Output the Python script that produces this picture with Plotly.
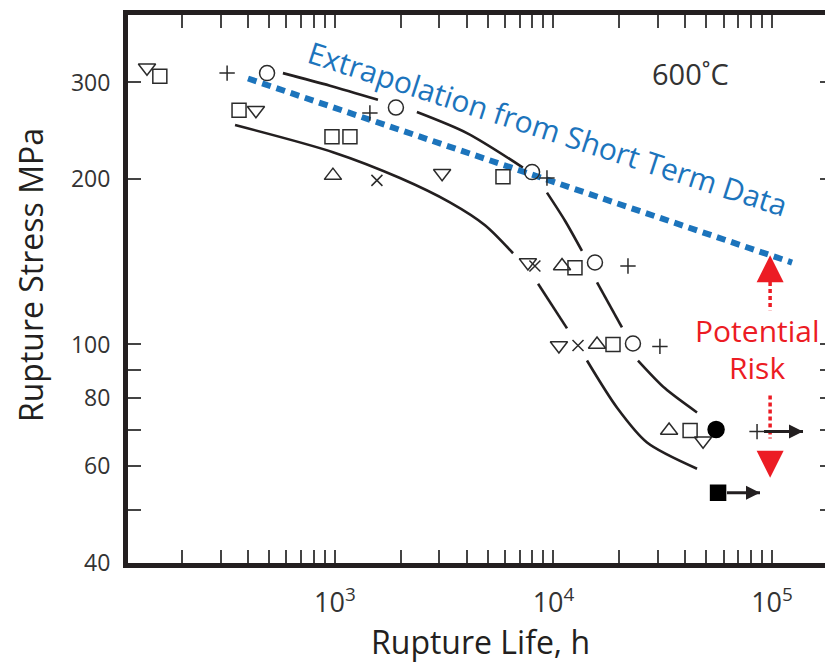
import math
import plotly.graph_objects as go

# ---------------- data (rupture life in h, rupture stress in MPa) ----------------
circle_life = [489, 1901, 7980, 15480, 23100]
circle_stress = [312, 270, 206, 141, 100.4]

square_life = [158, 364, 969, 1171, 5873, 12540, 18720, 42180]
square_stress = [308, 267, 239, 239, 202, 138, 100, 69.7]

tri_up_life = [979, 10940, 15820, 33800]
tri_up_stress = [203, 139, 100, 69.7]

tri_down_life = [138, 435, 3093, 7638, 10590, 48350]
tri_down_stress = [319, 267, 205, 141, 99.6, 66.8]

plus_life = [321, 1445, 9335, 21920, 30690, 85400]
plus_stress = [312, 264, 201, 139, 99.2, 69.4]

cross_life = [1556, 8222, 12950]
cross_stress = [199, 139, 99.6]

runout_circle_life = [55460]
runout_circle_stress = [70]
runout_square_life = [56640]
runout_square_stress = [53.7]

# run-out arrows (still running specimens)
runout_arrow1_life = [91900, 138600]
runout_arrow1_stress = [69.4, 69.4]
runout_arrow2_life = [62200, 88100]
runout_arrow2_stress = [53.7, 53.7]

# scatter band curves (None = gap where the line passes behind markers)
upper_curve_life = [578, 949, 1573, None, 2371, 4018, 7244, None, 9335, 11290, 13500,
                    None, 15820, 20570, None, 24360, 32380, 45370]
upper_curve_stress = [312, 296, 279, None, 265, 242.6, 210, None, 189, 168, 148,
                      None, 129.8, 107.4, None, 93.5, 83.2, 75.2]
lower_curve_life = [349, 979, 1984, 3357, 4860, 6530, None, 8500, 11530, None,
                    14230, 19540, 26790, 45370]
lower_curve_stress = [251, 224, 201, 181.5, 164.9, 146.6, None, 129, 107, None,
                      93.5, 76.7, 66.3, 59.4]

# extrapolation of short-term data
extrap_life = [400, 123500]
extrap_stress = [305, 141]

# potential risk arrow
risk_life = 98000
risk_up_dots = [130, 115.4]
risk_up_tip = 145.3
risk_down_dots = [80.7, 67.4]
risk_down_tip = 57.2

# axes
x_tickvals = [200, 300, 400, 500, 600, 700, 800, 900, 1000,
              2000, 3000, 4000, 5000, 6000, 7000, 8000, 9000, 10000,
              20000, 30000, 40000, 50000, 60000, 70000, 80000, 90000, 100000]
x_ticktext = ["" for _ in x_tickvals]
x_ticktext[8] = "10<sup>3</sup>"
x_ticktext[17] = "10<sup>4</sup>"
x_ticktext[26] = "10<sup>5</sup>"
y_tickvals = [40, 50, 60, 70, 80, 90, 100, 200, 300]
y_ticktext = ["40", "", "60", "", "80", "", "100", "200", "300"]

DARK = "#231f20"
BLUE = "#1c74bc"
RED = "#ec1c24"
FONT = "Open Sans"

fig = go.Figure()

# curves
for lx, ly in [(upper_curve_life, upper_curve_stress), (lower_curve_life, lower_curve_stress)]:
    fig.add_trace(go.Scatter(x=lx, y=ly, mode="lines", connectgaps=False,
                             line=dict(color=DARK, width=2.6, shape="spline", smoothing=0.8),
                             hoverinfo="skip", showlegend=False))

# extrapolation line
fig.add_trace(go.Scatter(x=extrap_life, y=extrap_stress, mode="lines",
                         line=dict(color=BLUE, width=6, dash="9px,6px"),
                         showlegend=False, hoverinfo="skip"))

# potential risk dotted lines + heads
fig.add_trace(go.Scatter(x=[risk_life, risk_life], y=risk_up_dots, mode="lines",
                         line=dict(color=RED, width=3.5, dash="4px,3px"), showlegend=False))
fig.add_trace(go.Scatter(x=[risk_life, risk_life], y=risk_down_dots, mode="lines",
                         line=dict(color=RED, width=3.5, dash="4px,3px"), showlegend=False))
fig.add_trace(go.Scatter(x=[risk_life], y=[risk_up_tip], mode="markers",
                         marker=dict(symbol="arrow-up", size=27, color=RED, line=dict(width=0)),
                         showlegend=False))
fig.add_trace(go.Scatter(x=[risk_life], y=[risk_down_tip], mode="markers",
                         marker=dict(symbol="arrow-down", size=27, color=RED, line=dict(width=0)),
                         showlegend=False))

# run-out arrows
for ax_, ay_ in [(runout_arrow1_life, runout_arrow1_stress), (runout_arrow2_life, runout_arrow2_stress)]:
    fig.add_trace(go.Scatter(x=ax_, y=ay_, mode="lines",
                             line=dict(color=DARK, width=3), showlegend=False))
    fig.add_trace(go.Scatter(x=[ax_[-1]], y=[ay_[-1]], mode="markers",
                             marker=dict(symbol="arrow-right", size=14, color=DARK, line=dict(width=0)),
                             showlegend=False))

def pts(x, y, symbol, size, width=1.5, color="#2b2b2b"):
    fig.add_trace(go.Scatter(x=x, y=y, mode="markers",
                             marker=dict(symbol=symbol, size=size, color=color,
                                         line=dict(color=color, width=width)),
                             showlegend=False))

pts(circle_life, circle_stress, "circle-open", 15)
pts(square_life, square_stress, "square-open", 14)
pts(tri_up_life, tri_up_stress, "triangle-up-open", 15)
pts(tri_down_life, tri_down_stress, "triangle-down-open", 15)
pts(plus_life, plus_stress, "cross-thin-open", 11)
pts(cross_life, cross_stress, "x-thin-open", 11)
pts(runout_circle_life, runout_circle_stress, "circle", 16, color="#000000")
pts(runout_square_life, runout_square_stress, "square", 15, color="#000000")

def note(text, x, y, size, color, angle=0):
    return dict(text=text, x=x, y=y, xref="paper", yref="paper", showarrow=False,
                xanchor="center", yanchor="middle", textangle=angle,
                font=dict(family=FONT, size=size, color=color))

annotations = [
    note("Extrapolation from Short Term Data", 0.5955, 0.793, 30, BLUE, 18),
    note("600˚C", 0.798, 0.894, 29, "#333333"),
    note("Potential", 0.8925, 0.425, 30, RED),
    note("Risk", 0.8925, 0.356, 30, RED),
    note("Rupture Life, h", 0.5, -0.144, 32, DARK),
    note("Rupture Stress MPa", -0.139, 0.5255, 32, DARK, -90),
]

# page body has an 8px margin -> figure is 8px smaller, plot area stays 705x548
fig.update_layout(
    width=825, height=658,
    margin=dict(l=120, r=0, t=7, b=103, autoexpand=False),
    paper_bgcolor="white", plot_bgcolor="white",
    showlegend=False,
    annotations=annotations,
    xaxis=dict(type="log", range=[2.053, 5.279], tickmode="array", tickvals=x_tickvals,
               ticktext=x_ticktext, ticks="inside", ticklen=13, tickwidth=1.5, tickcolor="#444",
               showline=True, linewidth=5, linecolor=DARK, mirror="ticks", automargin=False,
               showgrid=False, zeroline=False, ticklabelstandoff=12,
               tickfont=dict(family=FONT, size=27, color="#333333")),
    yaxis=dict(type="log", range=[math.log10(40), 2.6], tickmode="array", tickvals=y_tickvals,
               ticktext=y_ticktext, ticks="inside", ticklen=13, tickwidth=1.5, tickcolor="#444",
               showline=True, linewidth=5, linecolor=DARK, mirror="ticks", automargin=False,
               showgrid=False, zeroline=False, ticklabelstandoff=8,
               tickfont=dict(family=FONT, size=23, color="#333333")),
)

fig.write_html("out.html")
